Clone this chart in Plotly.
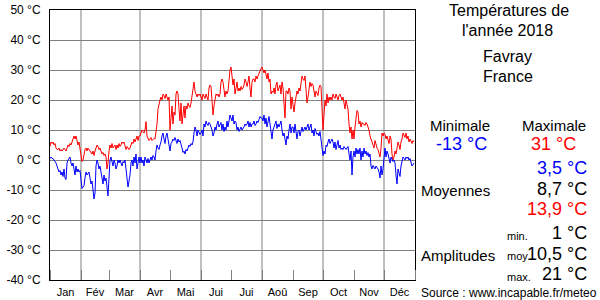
import plotly.graph_objects as go

# ---------------- data (daily values 2018, °C) ----------------
tmax_jan = [4.5,6,5.5,6,5,5.5,4,3.5,3.5,4,3,3.5,3,3.5,4,3.5,3,4,5,4.5,5.5,5,6,7.5,8,7,8,6.5,5,6,4]
tmax_feb = [1,-0.5,0,2,3.5,4,3,4,3.5,3,2.5,2,3,1.5,3,4,5,4.5,3.5,4,3,2,2.5,1.5,2,1,-3,-1]
tmax_mar = [3,5,4,5.5,4,4.5,5,3.5,5,4,5.5,4.5,5,6,5.5,6,5,3.5,4.5,4,3.5,4,5,6,5.5,7,6,7,8,6.5,8]
tmax_apr = [8,9,10,9.5,9,10,12.8,8,7,6.5,7,7.5,6.5,7,7.2,7,9,12,17,19,20,21,20,22,21.5,20.5,22,21,20,21]
tmax_may = [10,14,18,12,16,15,22,23,22,17,13,19,12,15,18,14,18,17,19,18,17.5,19,21,24,26,23,22,21,22,21.5,22]
tmax_jun = [21,20,22,21,20.5,22,21,20,24,25,24.5,19,15,18,21,22,21.5,22,21,22,26,27,26,22,21,23,22,23,27,30]
tmax_jul = [31,28,25,27,22,24,26,23,24,23,24.5,23.5,24,25,27,26,24.5,26,28,24,21,26,27,27,26,28,27,28,29,30,30.5]
tmax_aug = [31,30,29,30,28,27,29,26,27,22,23,22.5,24,22,25,26,23,24,25,22,26,24,20,14,23,23,22,24,23,17,21]
tmax_sep = [18,16,19,21,23,22,24,23,26,28,27,26.5,28,23,19,21,25,26,24.5,25.5,25,22,21,23,22,21.5,24,25,24.5,19]
tmax_oct = [10,15,20,18,22,19,21,20,21,20,22,21,20.5,22,21,20,21.5,22,21,20,21,19,17,20,18,17,12,9,11,7,10]
tmax_nov = [7,11,15,16.5,16,12,13,11,12.5,12,12,11.5,12.5,12,11,10,8,7,6,5,4,6.5,5,4,3.5,2,1,4,9,8]
tmax_dec = [9,8.5,7,8,6,5.5,8,7,2,0,1,3,2,4,6,5,3.5,6,7,9,8,7.5,9,7,8,6,7,6,5.5,6.5,6]

tmin_jan = [0.5,1,0.5,0.5,0,-0.5,-1,-2,-3,-4,-3.5,-5,-4,-5.5,-3,-6,-6.5,-1,0,0.5,1,-1,-2,-1,-3,-5,-2,-4,-3,-4,-3.5]
tmin_feb = [-8,-9.5,-9,-8.5,-6,-4,-5,-4.5,-4,-6,-8,-7,-10,-13,-11,-2,0,-1,-3,-2,-4,-6,-8,-5,-7,-6,-10,-12]
tmin_mar = [-6,0,1,-1,-2,0,-1,-3,-2,0,-1,0,-1,-2,-0.5,-1,0,-4,-6,-9,-7,-5,-1,0,-2,1,-1,2,-3,0,1]
tmin_apr = [-1,1,-1,0,-2,1,0,-1,0.5,-1,0,1,0,1.5,1,0,3,5,4,3.5,5,6,8,9,7,5.5,8,9,7,5]
tmin_may = [3,5.5,6,7,6.5,7.5,6,5.5,7,6,6.5,5.5,4,2.5,3,2,3.5,3,4,5,4.5,5.5,5,6,9,11,10,8,10,9,8.5]
tmin_jun = [9,10,8,12,11,13,12,11.5,12.5,12,11,10,8,9,11,10,12,13,11,12,12.5,10,12,9.5,11,10,13,11,14,15]
tmin_jul = [14,13,15,12,13,12.5,10,11,9.5,10.5,11,10,10.5,11,12,11.5,12,13,11,12.5,11,12,12,13,11.5,12,13,12.5,13.5,14.5,14]
tmin_aug = [14,13,15,12,14,11,13,14.5,12,9,7,10,11,12,13,10.5,12,11,12.5,13,10,8,9,6,5,8,7,10,12,9,11]
tmin_sep = [11,9,12,8,7,9.5,10,8,10,11,9.5,10.5,11,10,11,12,10,11.5,12,9,10,8,10.5,9.5,8.5,9,8,9.5,7,3]
tmin_oct = [1.5,3,2,5,4.5,6,7,5.5,6.5,7,6,4,6,3.5,5,6.5,4,5,3.5,4,3.5,4.5,4,3.5,4,4.5,2,0,3,-5,1]
tmin_nov = [3,1,4,2,3.5,2,4,0,3,1,4,2,3,1.5,2.5,1,2,-2,-3,-1.8,-2.5,-3,-2,-2.5,-3,-4,-6,-2,-5,-3]
tmin_dec = [2,4,1,3,2,0,-1,1,0,-0.5,0,-1,-5,-8,-3,-4,-5.5,-2,0,1,0.5,0,1,0.5,1,0,0.5,-1,-2,-1.5,-1]

month_labels = ["Jan", "Fév", "Mar", "Avr", "Mai", "Jui", "Jui", "Aoû", "Sep", "Oct", "Nov", "Déc"]
month_days = [31, 28, 31, 30, 31, 30, 31, 31, 30, 31, 30, 31]
y_ticks = [-40, -30, -20, -10, 0, 10, 20, 30, 40, 50]

tmax = tmax_jan + tmax_feb + tmax_mar + tmax_apr + tmax_may + tmax_jun + tmax_jul + tmax_aug + tmax_sep + tmax_oct + tmax_nov + tmax_dec
tmin = tmin_jan + tmin_feb + tmin_mar + tmin_apr + tmin_may + tmin_jun + tmin_jul + tmin_aug + tmin_sep + tmin_oct + tmin_nov + tmin_dec
days = list(range(len(tmax)))

bounds = [0]
for n in month_days:
    bounds.append(bounds[-1] + n)
centers = [(bounds[i] + bounds[i + 1]) / 2 for i in range(12)]

FONT = "Liberation Sans, Arial, sans-serif"
GRID = "#808080"

fig = go.Figure()
fig.add_trace(go.Scatter(x=days, y=tmax, mode="lines", line=dict(color="#ff0000", width=1),
                         hoverinfo="skip"))
fig.add_trace(go.Scatter(x=days, y=tmin, mode="lines", line=dict(color="#0000ff", width=1),
                         hoverinfo="skip"))

# vertical gridlines every other month
shapes = []
for b in bounds[1:12:2]:
    shapes.append(dict(type="line", xref="x", yref="paper", x0=b, x1=b, y0=0, y1=1,
                       line=dict(color=GRID, width=1), layer="below"))

# ------------- right-hand text block -------------
L, R, T, B = 50, 415, 10, 280
def px(x):
    return (x - L) / (R - L)
def py(y):
    return (B - y) / (B - T)

texts = [
    ("Températures de", 509, 10, "center", 16, "black"),
    ("l'année 2018", 507, 30, "center", 16, "black"),
    ("Favray", 507, 56, "center", 16, "black"),
    ("France", 508, 77, "center", 16, "black"),
    ("Minimale", 460, 125, "center", 15, "black"),
    ("Maximale", 554, 125, "center", 15, "black"),
    ("-13 °C", 461, 144, "center", 18, "#0000ff"),
    ("31 °C", 553, 144, "center", 18, "#ff0000"),
    ("3,5 °C", 589, 168, "right", 18, "#0000ff"),
    ("Moyennes", 419, 190, "left", 15, "black"),
    ("8,7 °C", 589, 189, "right", 18, "black"),
    ("13,9 °C", 589, 209, "right", 18, "#ff0000"),
    ("min.", 505, 236, "left", 11, "black"),
    ("1 °C", 589, 233, "right", 18, "black"),
    ("Amplitudes", 419, 255, "left", 15, "black"),
    ("moy", 505, 256, "left", 11, "black"),
    ("10,5 °C", 589, 254, "right", 18, "black"),
    ("max.", 505, 277, "left", 11, "black"),
    ("21 °C", 589, 274, "right", 18, "black"),
    ("Source : www.incapable.fr/meteo", 419, 293, "left", 12, "black"),
]
annotations = []
for t, x, y, anc, size, col in texts:
    annotations.append(dict(text=t, x=px(x), y=py(y), xref="paper", yref="paper",
                            xanchor=anc, yanchor="middle", showarrow=False,
                            font=dict(family=FONT, size=size, color=col)))

fig.update_layout(
    width=600, height=300,
    margin=dict(l=L, r=600 - R, t=T, b=300 - B, autoexpand=False),
    paper_bgcolor="white", plot_bgcolor="white",
    showlegend=False,
    font=dict(family=FONT, size=12, color="black"),
    shapes=shapes,
    annotations=annotations,
    xaxis=dict(range=[0, 365], tickmode="array", tickvals=centers, ticktext=month_labels,
               ticks="", showgrid=False, zeroline=False, automargin=False,
               showline=True, linecolor="black", linewidth=1, mirror=True,
               ticklabelstandoff=2,
               tickfont=dict(family=FONT, size=11),
               minor=dict(tickmode="array", tickvals=bounds, ticks="inside", ticklen=10,
                          tickcolor=GRID, tickwidth=1, showgrid=False)),
    yaxis=dict(range=[-40, 50], tickmode="array", tickvals=y_ticks,
               ticktext=[f"{v} °C" for v in y_ticks], automargin=False,
               showgrid=True, gridcolor=GRID, gridwidth=1, zeroline=False,
               showline=True, linecolor="black", linewidth=1, mirror=True,
               ticks="", ticklabelstandoff=6, tickfont=dict(size=12)),
)

fig.write_html("out.html", config={"displayModeBar": False, "staticPlot": True})
